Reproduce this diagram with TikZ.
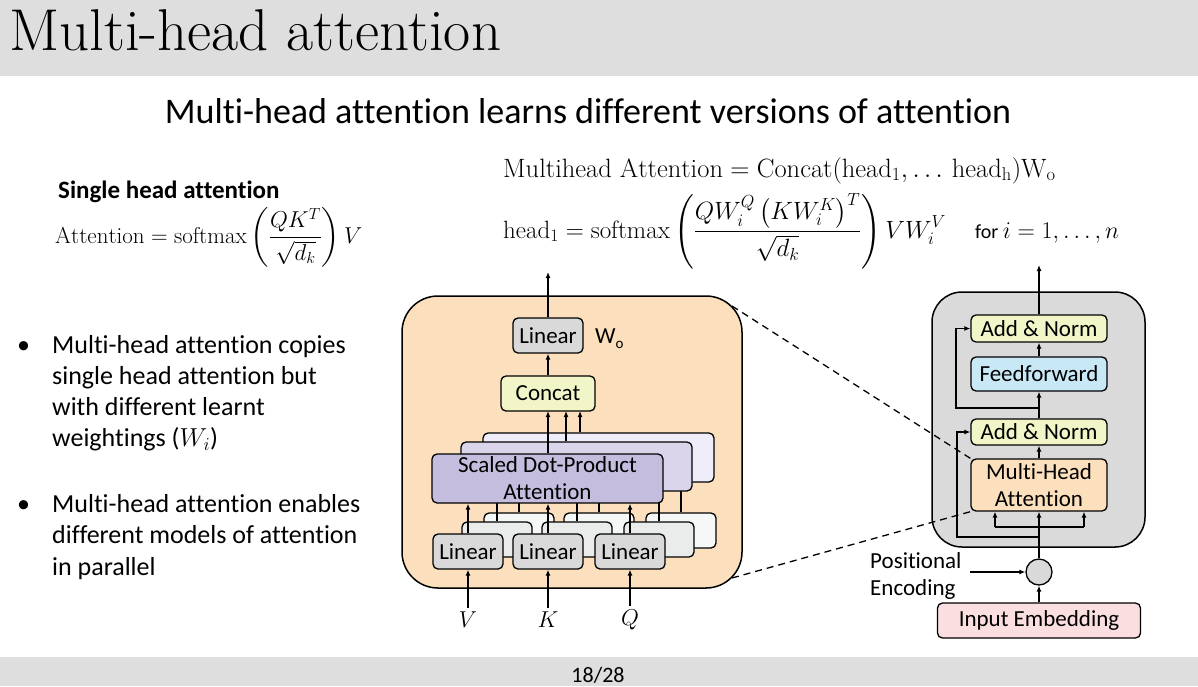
\RequirePackage{fix-cm}
\documentclass[tikz,border=0pt]{standalone}
\usepackage{amsmath}
\usepackage{fontspec}
\newfontfamily\carl[Ligatures=NoCommon]{Carlito}
\usetikzlibrary{arrows.meta}
\definecolor{barg}{RGB}{222,222,222}
\definecolor{orfill}{RGB}{252,224,190}
\definecolor{linfill}{RGB}{217,217,217}
\definecolor{catfill}{RGB}{242,245,200}
\definecolor{sdA}{RGB}{196,189,222}
\definecolor{sdB}{RGB}{218,213,235}
\definecolor{sdC}{RGB}{239,237,249}
\definecolor{lnB}{RGB}{233,236,234}
\definecolor{lnC}{RGB}{245,248,247}
\definecolor{ffill}{RGB}{200,232,246}
\definecolor{contg}{RGB}{218,218,218}
\definecolor{embfill}{RGB}{250,222,224}
\begin{document}
\begin{tikzpicture}[x=1pt,y=-1pt,
  arr/.style={-{Latex[length=6pt,width=5pt]},line width=1.3pt},
  ln/.style={line width=1.3pt},
  dsh/.style={line width=1.3pt,dash pattern=on 7pt off 5pt},
  bx/.style={draw,line width=1.3pt,rounded corners=5pt,inner sep=0pt,align=center,font=\carl\fontsize{23}{27}\selectfont},
  txt/.style={inner sep=0pt,anchor=base west},
  btxt/.style={txt,font=\carl\fontsize{26}{31}\selectfont},
]
\useasboundingbox (0,0) rectangle (1198,686);
\fill[barg] (0,0) rectangle (1198,76);
\fill[barg] (0,657) rectangle (1198,686);
\node[txt,font=\fontsize{59}{64}\selectfont] (title) at (9,50) {Multi-head attention};
\node[inner sep=0pt,anchor=base,font=\carl\fontsize{22}{26}\selectfont] (page) at (598,682) {18/28};
\node[inner sep=0pt,anchor=base,font=\carl\fontsize{36}{40}\selectfont] (sub) at (588,123) {Multi-head attention learns different versions of attention};

% left text
\node[txt,font=\carl\bfseries\fontsize{25}{29}\selectfont] (sh) at (58,198) {Single head attention};
\node[txt,font=\fontsize{23}{28}\selectfont] (f0) at (55,243) {$\displaystyle\mathrm{Attention}=\mathrm{softmax}\left(\frac{QK^T}{\sqrt{d_k}}\right)V$};
\node[btxt] (b1) at (17,353) {\textbullet};
\node[btxt] (b1a) at (52,353) {Multi-head attention copies};
\node[btxt] (b1b) at (52,384.5) {single head attention but};
\node[btxt] (b1c) at (52,415.5) {with different learnt};
\node[btxt] (b1d) at (52,446.5) {weightings ($W_i$)};
\node[btxt] (b2) at (17,512) {\textbullet};
\node[btxt] (b2a) at (52,512) {Multi-head attention enables};
\node[btxt] (b2b) at (52,543.5) {different models of attention};
\node[btxt] (b2c) at (52,575) {in parallel};

% formulas right
\node[txt,font=\fontsize{26.5}{31}\selectfont] (mf) at (503,177) {$\mathrm{Multihead\ Attention}=\mathrm{Concat}(\mathrm{head}_1,\dots\,\mathrm{head}_{\mathrm{h}})\mathrm{W}_{\mathrm{o}}$};
\node[txt,font=\fontsize{25}{30}\selectfont] (hf) at (503,238) {$\displaystyle\mathrm{head}_1=\mathrm{softmax}\left(\frac{QW_i^Q\left(KW_i^K\right)^T}{\sqrt{d_k}}\right)VW_i^V$};
\node[txt,font=\carl\fontsize{20}{24}\selectfont] (forr) at (975,238) {for \fontsize{24}{30}\selectfont$i=1,\ldots,n$};

% left diagram
\node[draw,fill=orfill,line width=1.5pt,rounded corners=36pt,minimum width=340pt,minimum height=292pt,inner sep=0pt] (obox) at (572,442) {};
% back layer
\node[bx,fill=sdC,minimum width=231pt,minimum height=49pt] (sdC) at (598.5,457.5) {};
\node[bx,fill=lnC,minimum width=70pt,minimum height=35pt] (l1C) at (519,530.5) {};
\node[bx,fill=lnC,minimum width=70pt,minimum height=35pt] (l2C) at (599,530.5) {};
\node[bx,fill=lnC,minimum width=70pt,minimum height=35pt] (l3C) at (681,530.5) {};
\foreach \n in {l1C,l2C,l3C}{\draw[arr] (\n.north) -- (\n.north |- sdC.south);}
% middle layer
\node[bx,fill=sdB,minimum width=231pt,minimum height=49pt] (sdB) at (576.5,466.5) {};
\node[bx,fill=lnB,minimum width=70pt,minimum height=35pt] (l1B) at (497,539.5) {};
\node[bx,fill=lnB,minimum width=70pt,minimum height=35pt] (l2B) at (577,539.5) {};
\node[bx,fill=lnB,minimum width=70pt,minimum height=35pt] (l3B) at (659,539.5) {};
\foreach \n in {l1B,l2B,l3B}{\draw[arr] (\n.north) -- (\n.north |- sdB.south);}
% front layer
\node[bx,fill=sdA,minimum width=231pt,minimum height=49pt] (sdA) at (547.5,478.5) {Scaled Dot-Product\\Attention};
\node[bx,fill=linfill,minimum width=70pt,minimum height=35pt] (l1A) at (468,551.5) {Linear};
\node[bx,fill=linfill,minimum width=70pt,minimum height=35pt] (l2A) at (548,551.5) {Linear};
\node[bx,fill=linfill,minimum width=70pt,minimum height=35pt] (l3A) at (630,551.5) {Linear};
\foreach \n in {l1A,l2A,l3A}{\draw[arr] (\n.north) -- (\n.north |- sdA.south);}
\node[bx,fill=catfill,minimum width=94pt,minimum height=35pt] (cat) at (548,393.5) {Concat};
\node[bx,fill=linfill,minimum width=70pt,minimum height=35pt] (lt) at (548,335.5) {Linear};
\node[txt,font=\carl\fontsize{23}{27}\selectfont] (wo) at (595,343) {W\raisebox{-5pt}{\fontsize{15}{15}\selectfont o}};
\coordinate (cA) at (548,411);
\coordinate (cB) at (566,411);
\coordinate (cC) at (580,411);
\draw[arr] (cA |- sdA.north) -- (cA);
\draw[arr] (cB |- sdB.north) -- (cB);
\draw[arr] (cC |- sdC.north) -- (cC);
\draw[arr] (cat.north) -- (lt.south);
\coordinate (out1) at (548,272);
\draw[arr] (lt.north) -- (out1);
\node[font=\fontsize{23}{28}\selectfont,inner sep=0pt] (vl) at (468,620) {$V$};
\node[font=\fontsize{23}{28}\selectfont,inner sep=0pt] (kl) at (548,620) {$K$};
\node[font=\fontsize{23}{28}\selectfont,inner sep=0pt] (ql) at (630,620) {$Q$};
\draw[arr,shorten <=4pt] (vl.north) -- (l1A.south);
\draw[arr,shorten <=4pt] (kl.north) -- (l2A.south);
\draw[arr,shorten <=4pt] (ql.north) -- (l3A.south);

% right diagram
\node[draw,fill=contg,line width=1.5pt,rounded corners=30pt,minimum width=213pt,minimum height=255pt,inner sep=0pt] (gbox) at (1038.5,419.5) {};
\node[bx,fill=catfill,minimum width=136pt,minimum height=27pt] (an1) at (1039,328.5) {Add \& Norm};
\node[bx,fill=ffill,minimum width=136pt,minimum height=34pt] (ff) at (1039,374) {Feedforward};
\node[bx,fill=catfill,minimum width=136pt,minimum height=26pt] (an2) at (1039,432) {Add \& Norm};
\node[bx,fill=orfill,minimum width=136pt,minimum height=52pt] (mh) at (1039,485) {Multi-Head\\Attention};
\node[circle,draw,fill=linfill,line width=1.3pt,minimum size=26pt,inner sep=0pt] (circ) at (1039,572) {};
\node[bx,fill=embfill,minimum width=203pt,minimum height=35pt] (emb) at (1039,620.5) {Input Embedding};
\node[txt,font=\carl\fontsize{23}{27}\selectfont] (pe1) at (870,568) {Positional};
\node[txt,font=\carl\fontsize{23}{27}\selectfont] (pe2) at (870,595) {Encoding};
\coordinate (pein) at (970,572);
\draw[arr] (pein) -- (circ.west);
\draw[arr] (emb.north) -- (circ.south);
\draw[arr] (circ.north) -- (mh.south);
\coordinate (ml) at (995,527);
\coordinate (mr) at (1084,527);
\draw[ln] (ml) -- (mr);
\draw[arr] (ml) -- (ml |- mh.south);
\draw[arr] (mr) -- (mr |- mh.south);
\coordinate (r2) at (1039,537);
\draw[arr] (r2) -- ++(-82,0) |- (an2.west);
\draw[arr] (mh.north) -- (an2.south);
\draw[arr] (an2.north) -- (ff.south);
\coordinate (r1) at (1039,408);
\draw[arr] (r1) -- ++(-83,0) |- (an1.west);
\draw[arr] (ff.north) -- (an1.south);
\coordinate (out2) at (1039,265);
\draw[arr] (an1.north) -- (out2);

% dashed zoom lines
\coordinate (d1) at (732,306);
\coordinate (d2) at (732,578);
\draw[dsh] (d1) -- (mh.north west);
\draw[dsh] (d2) -- (mh.south west);
\end{tikzpicture}
\end{document}
